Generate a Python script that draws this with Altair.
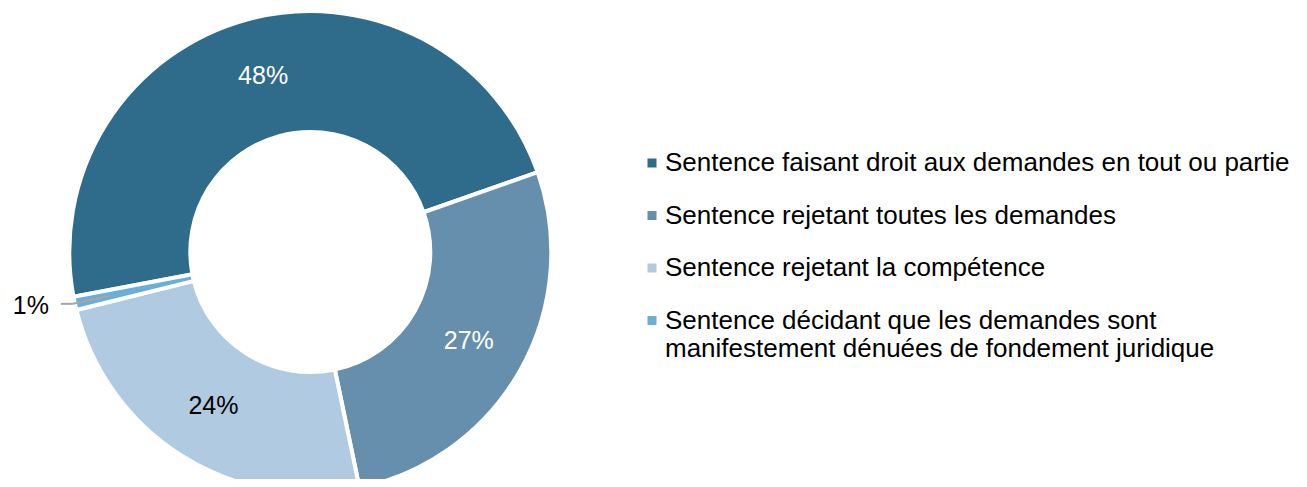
import math
import altair as alt
import pandas as pd

# ---- data ----
categories = [
    "Sentence faisant droit aux demandes en tout ou partie",
    "Sentence rejetant toutes les demandes",
    "Sentence rejetant la compétence",
    "Sentence décidant que les demandes sont\nmanifestement dénuées de fondement juridique",
]
values = [47.6, 27.1, 24.4, 0.9]
colors = ["#2F6B8A", "#668FAD", "#B0CBE1", "#6AAED9"]

df = pd.DataFrame({"category": categories, "value": values, "order": list(range(len(values)))})

# ---- geometry ----
W, H = 1291, 471
CX, CY = 302.3, 244.0
R_OUT, R_IN = 241, 120
START = math.radians(259.3)
FONT = "Liberation Sans"

theta_scale = alt.Scale(domain=[0, 100], range=[START, START + 2 * math.pi])

base = alt.Chart(df).transform_window(
    cum="sum(value)", sort=[{"field": "order"}], frame=[None, 0]
).transform_calculate(
    start="datum.cum - datum.value",
    mid="datum.cum - datum.value / 2",
    pct="format(datum.value, '.0f') + '%'",
)

arcs = base.mark_arc(
    radius=R_OUT, radius2=R_IN, stroke="white", strokeWidth=4
).encode(
    x=alt.value(CX),
    y=alt.value(CY),
    theta=alt.Theta("start:Q", scale=theta_scale),
    theta2="cum:Q",
    color=alt.Color(
        "category:N",
        scale=alt.Scale(domain=categories, range=colors),
        legend=alt.Legend(
            title=None,
            orient="none",
            legendX=631,
            legendY=142,
            symbolType="square",
            symbolSize=81,
            symbolStrokeWidth=0,
            labelFont=FONT,
            labelFontSize=26,
            labelColor="#000000",
            labelLimit=0,
            labelOffset=0,
            rowPadding=26.5,
            padding=0,
            labelExpr="split(datum.label, '\\n')",
        ),
    ),
    order=alt.Order("order:Q"),
)

labels = base.transform_filter("datum.order < 3").mark_text(
    radius=182, font=FONT, fontSize=25
).encode(
    x=alt.value(CX),
    y=alt.value(CY),
    theta=alt.Theta("mid:Q", scale=theta_scale),
    text="pct:N",
    color=alt.condition("datum.order < 2", alt.value("white"), alt.value("black")),
)

# outside label + leader for the small slice
ang = f"({START} + datum.mid / 100 * 2 * PI)"
small = base.transform_filter("datum.order == 3").transform_calculate(
    ox=f"{CX} + 243 * sin({ang})",
    oy=f"{CY} - 243 * cos({ang})",
    ix=f"{CX} + 205 * sin({ang})",
    iy=f"{CY} - 205 * cos({ang})",
).transform_calculate(
    hx="datum.ox - 12",
    tx="datum.ox - 22",
)

leader1 = small.mark_rule(color="#A6A6A6", strokeWidth=2).encode(
    x=alt.X("hx:Q", scale=None), x2="ox:Q",
    y=alt.Y("oy:Q", scale=None), y2="oy:Q",
)
leader2 = small.mark_rule(color="#A6A6A6", strokeWidth=2).encode(
    x=alt.X("ox:Q", scale=None), x2="ix:Q",
    y=alt.Y("oy:Q", scale=None), y2="iy:Q",
)
small_text = small.mark_text(font=FONT, fontSize=25, align="right", baseline="middle", dy=2, dx=-2).encode(
    x=alt.X("tx:Q", scale=None),
    y=alt.Y("oy:Q", scale=None),
    text="pct:N",
    color=alt.value("black"),
)

chart = alt.layer(arcs, labels, leader2, leader1, small_text).properties(
    width=W, height=H, autosize=alt.AutoSizeParams(type="none"), padding=0
).configure_view(stroke=None)

chart.save("out.html", embed_options={"renderer": "svg", "actions": False})
